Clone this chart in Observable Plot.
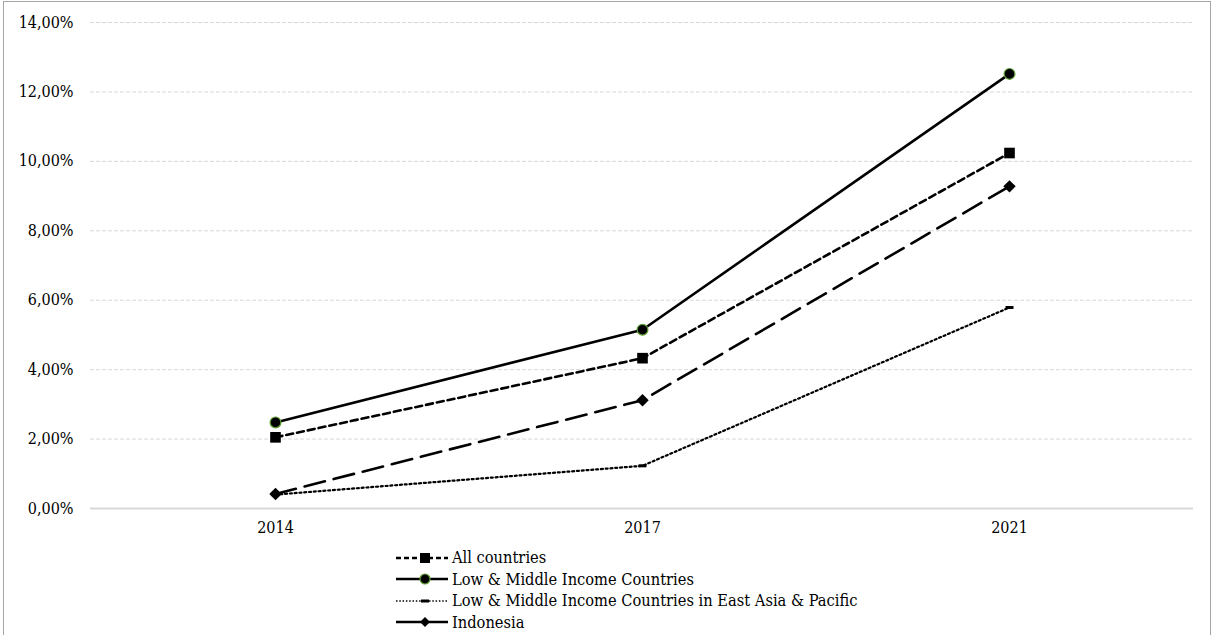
<!DOCTYPE html>
<html>
<head>
<meta charset="utf-8">
<script src="https://cdn.jsdelivr.net/npm/d3@7"></script>
<script src="https://cdn.jsdelivr.net/npm/@observablehq/plot@0.6"></script>
<style>
  html, body { margin: 0; padding: 0; background: #fff; }
  #frame {
    position: absolute; left: 3px; top: 1px; width: 1208px; height: 660px;
    border: 1px solid #a6a6a6; box-sizing: border-box;
  }
  #chart { position: absolute; left: 0; top: 0; }
  #chart svg text { font-stretch: condensed; }
  #legend {
    position: absolute; left: 396px; top: 547px;
    font-family: "DejaVu Serif Condensed", "DejaVu Serif", serif; font-stretch: condensed;
    font-size: 16.3px; color: #000;
  }
  .row { display: flex; align-items: center; height: 21.5px; }
  .row svg { margin-right: 3px; }
</style>
</head>
<body>
<div id="frame"></div>
<div id="chart"></div>
<div id="legend"></div>
<script>
// Survey years
const years = ["2014", "2017", "2021"];

// Series names
const seriesNames = [
  "All countries",
  "Low & Middle Income Countries",
  "Low & Middle Income Countries in East Asia & Pacific",
  "Indonesia"
];

// Share values (fractions) per series, one per survey year
const allCountries = [0.0205, 0.0433, 0.1024];
const lowMiddle = [0.0248, 0.0515, 0.1252];
const eastAsiaPacific = [0.0040, 0.0123, 0.0579];
const indonesia = [0.0042, 0.0312, 0.0928];

// Y axis ticks
const yTicks = [0, 0.02, 0.04, 0.06, 0.08, 0.10, 0.12, 0.14];

const seriesValues = [allCountries, lowMiddle, eastAsiaPacific, indonesia];
const rows = seriesNames.flatMap((name, i) =>
  years.map((year, j) => ({series: name, year, value: seriesValues[i][j]}))
);
const of = (name) => rows.filter((d) => d.series === name);

const locale = d3.formatLocale({decimal: ",", thousands: ".", grouping: [3], currency: ["", "€"], percent: "%"});
const pct = locale.format(".2%");

// Small horizontal bar used as the East Asia & Pacific marker
const dashSymbol = {
  draw(context, size) {
    const w = Math.sqrt(size) * 0.9, h = w * 0.38;
    context.rect(-w / 2, -h / 2, w, h);
  }
};

const FONT = "'DejaVu Serif Condensed', 'DejaVu Serif', serif";

const plot = Plot.plot({
  width: 1213,
  height: 545,
  marginLeft: 90,
  marginRight: 20,
  marginTop: 22,
  marginBottom: 37,
  style: {fontFamily: FONT, fontSize: "16px", color: "#000", background: "transparent"},
  x: {type: "point", domain: years, padding: 0.5, label: null},
  y: {domain: [0, 0.14], label: null},
  marks: [
    Plot.ruleY(yTicks.filter((t) => t > 0), {stroke: "#d9d9d9", strokeWidth: 1, strokeDasharray: "4,2"}),
    Plot.ruleY([0], {stroke: "#d9d9d9", strokeWidth: 2}),
    Plot.axisY({ticks: yTicks, tickFormat: pct, tickSize: 0, tickPadding: 17, fontSize: 16}),
    Plot.axisX({tickSize: 0, tickPadding: 13, fontSize: 16}),

    // East Asia & Pacific: dotted
    Plot.line(of(seriesNames[2]), {x: "year", y: "value", stroke: "#000", strokeWidth: 2.2, strokeDasharray: "2,2.8"}),
    Plot.dot(of(seriesNames[2]), {x: "year", y: "value", symbol: dashSymbol, r: 5, fill: "#000", stroke: "none"}),

    // Indonesia: long dash
    Plot.line(of(seriesNames[3]), {x: "year", y: "value", stroke: "#000", strokeWidth: 2.6, strokeDasharray: "21,9"}),
    Plot.dot(of(seriesNames[3]), {x: "year", y: "value", symbol: "diamond2", r: 5.6, fill: "#000", stroke: "none"}),

    // All countries: short dash
    Plot.line(of(seriesNames[0]), {x: "year", y: "value", stroke: "#000", strokeWidth: 2.6, strokeDasharray: "7,4"}),
    Plot.dot(of(seriesNames[0]), {x: "year", y: "value", symbol: "square", r: 6, fill: "#000", stroke: "none"}),

    // Low & middle income: solid
    Plot.line(of(seriesNames[1]), {x: "year", y: "value", stroke: "#000", strokeWidth: 2.6}),
    Plot.dot(of(seriesNames[1]), {x: "year", y: "value", r: 5.4, fill: "#000", stroke: "#5fa033", strokeWidth: 1.2})
  ]
});
document.getElementById("chart").appendChild(plot);

// Legend rows: line sample with marker, then the series name
const legendStyles = [
  {dash: "5,3", marker: "square"},
  {dash: null, marker: "circle"},
  {dash: "1.5,1.8", marker: "bar"},
  {dash: null, marker: "diamond"}
];
const legend = d3.select("#legend");
seriesNames.forEach((name, i) => {
  const st = legendStyles[i];
  const row = legend.append("div").attr("class", "row");
  const svg = row.append("svg").attr("width", 53).attr("height", 14);
  const line = svg.append("line").attr("x1", 0).attr("x2", 52).attr("y1", 7).attr("y2", 7)
    .attr("stroke", "#000").attr("stroke-width", i === 2 ? 1.5 : 2.5);
  if (st.dash) line.attr("stroke-dasharray", st.dash);
  const cx = 29, cy = 7;
  if (st.marker === "square") svg.append("rect").attr("x", cx - 5).attr("y", cy - 5).attr("width", 10).attr("height", 10).attr("fill", "#000");
  if (st.marker === "circle") svg.append("circle").attr("cx", cx).attr("cy", cy).attr("r", 5).attr("fill", "#000").attr("stroke", "#5fa033").attr("stroke-width", 1.2);
  if (st.marker === "bar") svg.append("rect").attr("x", cx - 4).attr("y", cy - 1.5).attr("width", 8).attr("height", 3).attr("fill", "#000");
  if (st.marker === "diamond") svg.append("path").attr("d", `M${cx},${cy - 5}L${cx + 5},${cy}L${cx},${cy + 5}L${cx - 5},${cy}Z`).attr("fill", "#000");
  row.append("span").text(name);
});
</script>
</body>
</html>
